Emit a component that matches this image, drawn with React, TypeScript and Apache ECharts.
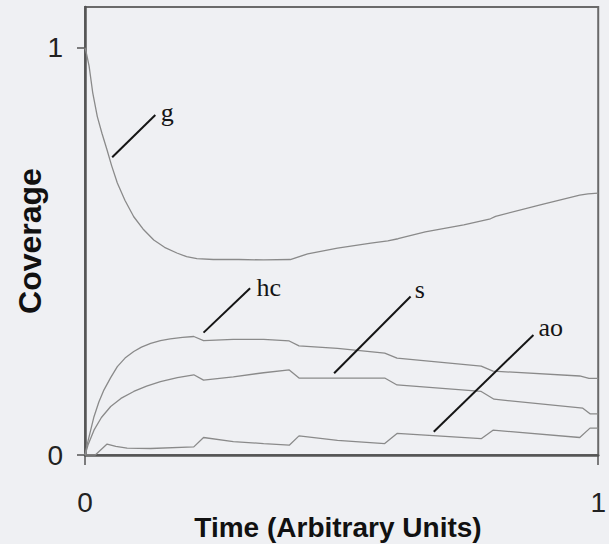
import React, { useEffect, useRef } from "react";
import * as echarts from "echarts";

// ---- data ----
const xTicks = [0, 1];
const yTicks = [0, 1];

const gSeries: [number, number][] = [
  [0, 1.0], [0.003, 0.985], [0.008, 0.955], [0.015, 0.89], [0.024, 0.831],
  [0.033, 0.79], [0.043, 0.749], [0.052, 0.71], [0.063, 0.668], [0.078, 0.625],
  [0.095, 0.585], [0.113, 0.555], [0.134, 0.528], [0.155, 0.51], [0.179, 0.496],
  [0.198, 0.487], [0.218, 0.482], [0.25, 0.48], [0.3, 0.48],
  [0.348, 0.479], [0.4, 0.48], [0.434, 0.494], [0.492, 0.508], [0.557, 0.52],
  [0.59, 0.526], [0.61, 0.531], [0.663, 0.548], [0.738, 0.565], [0.79, 0.58],
  [0.8, 0.586], [0.889, 0.615], [0.964, 0.638], [0.98, 0.641], [1.0, 0.643],
];
const hcSeries: [number, number][] = [
  [0, 0], [0.005, 0.03], [0.0175, 0.094], [0.027, 0.13], [0.037, 0.16],
  [0.05, 0.19], [0.063, 0.217], [0.078, 0.238], [0.095, 0.254], [0.11, 0.265],
  [0.128, 0.274], [0.147, 0.281], [0.166, 0.285], [0.19, 0.289], [0.212, 0.291],
  [0.231, 0.281], [0.289, 0.284],
  [0.348, 0.284], [0.398, 0.28], [0.417, 0.268], [0.492, 0.262], [0.584, 0.25],
  [0.608, 0.238], [0.772, 0.218], [0.795, 0.206], [0.964, 0.194], [0.982, 0.188],
  [1.0, 0.188],
];
const sSeries: [number, number][] = [
  [0, 0], [0.006, 0.025], [0.0175, 0.061], [0.032, 0.092], [0.05, 0.119],
  [0.07, 0.139], [0.095, 0.156], [0.12, 0.169], [0.147, 0.18], [0.18, 0.19],
  [0.212, 0.197], [0.231, 0.184], [0.289, 0.192], [0.348, 0.202], [0.398, 0.209],
  [0.417, 0.189], [0.584, 0.189], [0.608, 0.172], [0.772, 0.156], [0.797, 0.137],
  [0.97, 0.115], [0.984, 0.101], [1.0, 0.101],
];
const aoSeries: [number, number][] = [
  [0, 0], [0.02, 0], [0.043, 0.027], [0.06, 0.021], [0.082, 0.017], [0.128, 0.016],
  [0.212, 0.02], [0.231, 0.043], [0.289, 0.033], [0.348, 0.028], [0.398, 0.024],
  [0.417, 0.047], [0.492, 0.036], [0.584, 0.028], [0.608, 0.053], [0.772, 0.04],
  [0.795, 0.061], [0.964, 0.043], [0.984, 0.066], [1.0, 0.066],
];

// annotation leader lines (data coords) and label anchors
const annotNames = ["g", "hc", "s", "ao"];
const annotFrom: [number, number][] = [[0.053, 0.731], [0.231, 0.3005], [0.4854, 0.2007], [0.6796, 0.0572]];
const annotTo: [number, number][] = [[0.137, 0.835], [0.3217, 0.4096], [0.6344, 0.389], [0.8738, 0.2948]];
const annotLabel: [number, number][] = [[0.1476, 0.8415], [0.334, 0.4115], [0.6427, 0.4066], [0.8835, 0.3133]];

const seriesNames = ["g", "hc", "s", "ao"];
const seriesData = [gSeries, hcSeries, sSeries, aoSeries];

export default function App() {
  const ref = useRef<HTMLDivElement>(null);
  useEffect(() => {
    document.body.style.margin = "0";
    const chart = echarts.init(ref.current!, undefined, { renderer: "svg" });
    const series: any[] = seriesData.map((d, i) => ({
      name: seriesNames[i],
      type: "line",
      data: d,
      symbol: "none",
      silent: true,
      lineStyle: { color: "#8a8a8a", width: 1.3 },
      markLine: {
        silent: true,
        symbol: ["none", "none"],
        label: { show: false },
        lineStyle: { color: "#151515", width: 2, type: "solid" },
        data: [[{ coord: annotFrom[i] }, { coord: annotTo[i] }]],
      },
      markPoint: {
        silent: true,
        symbol: "circle",
        symbolSize: 0,
        data: [{ coord: annotLabel[i] }],
        label: {
          show: true,
          position: "right",
          distance: 0,
          formatter: annotNames[i],
          fontFamily: "Liberation Serif",
          fontSize: 26,
          color: "#151515",
        },
      },
    }));
    chart.setOption({
      animation: false,
      backgroundColor: "#eff0f3",
      grid: {
        left: 85,
        right: 9,
        top: 7,
        bottom: 89,
        show: true,
        borderColor: "#6a6a6a",
        borderWidth: 2,
      },
      xAxis: {
        type: "value",
        min: 0,
        max: 1,
        interval: 1,
        axisLine: { show: true, lineStyle: { color: "#555", width: 2.5 } },
        axisTick: { show: true, length: 10, customValues: xTicks, lineStyle: { color: "#555", width: 1.5 } },
        axisLabel: {
          customValues: xTicks,
          showMaxLabel: true,
          showMinLabel: true,
          margin: 33,
          fontSize: 28,
          fontFamily: "Liberation Sans",
          color: "#222",
        },
        splitLine: { show: false },
      },
      yAxis: {
        type: "value",
        min: 0,
        max: 1.1,
        axisLine: { show: true, lineStyle: { color: "#555", width: 2.5 } },
        axisTick: { show: true, length: 8, customValues: yTicks, lineStyle: { color: "#555", width: 1.5 } },
        axisLabel: {
          customValues: yTicks,
          margin: 22,
          fontSize: 28,
          fontFamily: "Liberation Sans",
          color: "#222",
        },
        splitLine: { show: false },
      },
      graphic: [
        {
          type: "text",
          x: 30,
          y: 241,
          rotation: Math.PI / 2,
          style: {
            text: "Coverage",
            fontFamily: "Liberation Sans",
            fontWeight: "bold",
            fontSize: 32,
            fill: "#111",
            align: "center",
            verticalAlign: "middle",
          },
        },
        {
          type: "text",
          x: 338,
          y: 527,
          style: {
            text: "Time (Arbitrary Units)",
            fontFamily: "Liberation Sans",
            fontWeight: "bold",
            fontSize: 28,
            fill: "#111",
            align: "center",
            verticalAlign: "middle",
          },
        },
      ],
      series,
    });
    return () => chart.dispose();
  }, []);
  return (
    <div
      ref={ref}
      style={{ position: "absolute", left: 0, top: 0, width: 609, height: 544 }}
    />
  );
}
